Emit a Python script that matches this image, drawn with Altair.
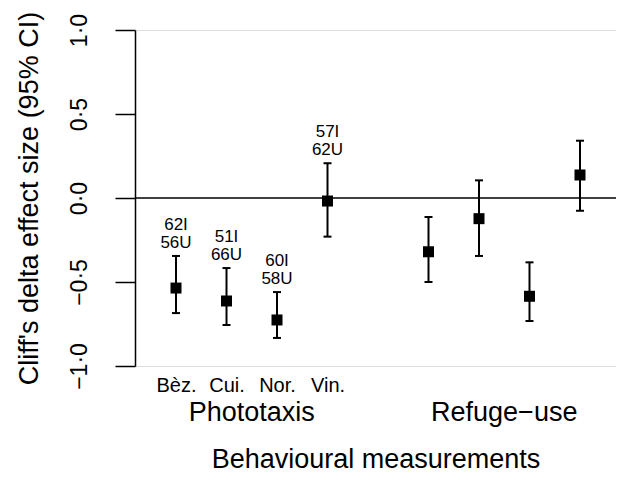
import altair as alt
import pandas as pd

# ---- data ----
positions = [1, 2, 3, 4, 6, 7, 8, 9]
groups = ["Phototaxis"] * 4 + ["Refuge−use"] * 4
site_labels = ["Bèz.", "Cui.", "Nor.", "Vin."]
estimates = [-0.536, -0.613, -0.726, -0.018, -0.320, -0.123, -0.585, 0.137]
lower = [-0.685, -0.756, -0.833, -0.230, -0.500, -0.345, -0.732, -0.076]
upper = [-0.345, -0.417, -0.560, 0.207, -0.113, 0.105, -0.383, 0.341]
sample_sizes = ["62I\n56U", "51I\n66U", "60I\n58U", "57I\n62U", "", "", "", ""]
y_ticks = [-1.0, -0.5, 0.0, 0.5, 1.0]
zero_line = [0.0]

df = pd.DataFrame({
    "pos": positions, "group": groups, "est": estimates,
    "lo": lower, "hi": upper, "n": sample_sizes,
})
grp = df.groupby("group", as_index=False)["pos"].mean()

FONT = "Liberation Sans"
W, H = 481, 336

xs = alt.Scale(domain=[0.188, 9.713], nice=False, zero=False)
ys = alt.Scale(domain=[-1, 1], nice=False, zero=False)

label_js = "[" + ",".join("'%s'" % s for s in site_labels) + "][datum.value-1]"

x_axis = alt.Axis(
    values=[1, 2, 3, 4], labelExpr=label_js, domain=False, ticks=False, grid=False,
    labelFontSize=20, labelPadding=9, labelColor="black", labelFont=FONT,
    title="Behavioural measurements", titleFontSize=27, titleFont=FONT,
    titleFontWeight="normal", titleColor="black", titleY=93, titleBaseline="middle",
)
y_axis = alt.Axis(
    values=y_ticks, labelExpr="replace(format(datum.value, '.1f'), '.', '·')",
    tickSize=20, tickWidth=1.5, tickColor="black", domainColor="black", domainWidth=1.5,
    grid=False, labelAngle=270, labelAlign="center", labelBaseline="bottom",
    labelPadding=24, labelFontSize=23, labelColor="black", labelFont=FONT,
    title="Cliff's delta effect size (95% CI)", titleFontSize=27, titleFont=FONT,
    titleFontWeight="normal", titleColor="black", titleAngle=270, titleX=-106,
    titleY=H / 2, titleAlign="center", titleBaseline="middle",
)

base = alt.Chart(df)

zero = alt.Chart(pd.DataFrame({"z": zero_line})).mark_rule(color="black", strokeWidth=1.5).encode(
    y=alt.Y("z:Q", scale=ys, axis=y_axis)
)

bars = base.mark_rule(color="black", strokeWidth=2).encode(
    x=alt.X("pos:Q", scale=xs, axis=x_axis),
    y=alt.Y("lo:Q", scale=ys),
    y2="hi:Q",
)
cap_hi = base.mark_rule(color="black", strokeWidth=2, xOffset=-4, x2Offset=4).encode(
    x=alt.X("pos:Q", scale=xs), x2="pos:Q", y=alt.Y("hi:Q", scale=ys)
)
cap_lo = base.mark_rule(color="black", strokeWidth=2, xOffset=-4, x2Offset=4).encode(
    x=alt.X("pos:Q", scale=xs), x2="pos:Q", y=alt.Y("lo:Q", scale=ys)
)
pts = base.mark_square(color="black", opacity=1, size=121).encode(
    x=alt.X("pos:Q", scale=xs), y=alt.Y("est:Q", scale=ys)
)
ann = base.mark_text(
    font=FONT, fontSize=17, color="black", lineBreak="\n", lineHeight=18,
    baseline="alphabetic", align="center", dy=-26,
).encode(x=alt.X("pos:Q", scale=xs), y=alt.Y("hi:Q", scale=ys), text="n:N")

grp_text = alt.Chart(grp).mark_text(
    font=FONT, fontSize=27, color="black", baseline="middle", align="center"
).encode(x=alt.X("pos:Q", scale=xs), y=alt.value(H + 47), text="group:N")

chart = alt.layer(zero, bars, cap_hi, cap_lo, pts, ann, grp_text).properties(
    width=W, height=H,
    autosize=alt.AutoSizeParams(type="none"),
    padding={"left": 127, "top": 22, "right": 0, "bottom": 108},
).configure_view(stroke=None).configure(background="white")

chart.save("out.html", embed_options={"renderer": "svg", "actions": False})
